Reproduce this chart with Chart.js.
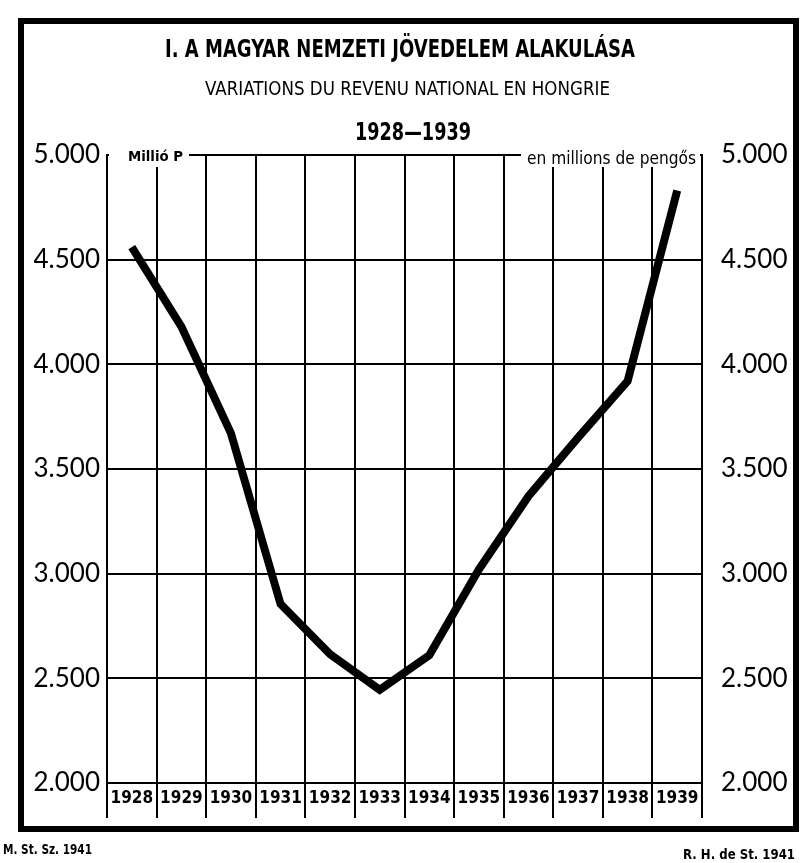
<!DOCTYPE html>
<html>
<head>
<meta charset="utf-8">
<script src="https://cdn.jsdelivr.net/npm/chart.js@4.4.1/dist/chart.umd.min.js"></script>
<style>
  html, body { margin: 0; padding: 0; background: #fff; }
  #wrap { position: relative; width: 801px; height: 863px; }
</style>
</head>
<body>
<div id="wrap"><canvas id="c"></canvas></div>
<script>
// ---- data ----
const years = ['1928','1929','1930','1931','1932','1933','1934','1935','1936','1937','1938','1939'];
const nationalIncome = [4560, 4180, 3670, 2855, 2615, 2445, 2610, 3020, 3370, 3650, 3920, 4830];
const yTickValues = [2000, 2500, 3000, 3500, 4000, 4500, 5000];
const yTickLabels = ['2.000', '2.500', '3.000', '3.500', '4.000', '4.500', '5.000'];
const titleMain = 'I. A MAGYAR NEMZETI JÖVEDELEM ALAKULÁSA';
const titleFr = 'VARIATIONS DU REVENU NATIONAL EN HONGRIE';
const titleYears = '1928—1939';
const unitHu = 'Millió P';
const unitFr = 'en millions de pengős';
const footLeft = 'M. St. Sz. 1941';
const footRight = 'R. H. de St. 1941';

const NARROW = "'Liberation Sans Narrow', 'DejaVu Sans Condensed', 'Liberation Sans', sans-serif";
const LABEL = "Lato, 'Noto Sans', sans-serif";

function tickLabel(v) {
  const i = yTickValues.indexOf(v);
  return i >= 0 ? yTickLabels[i] : '';
}

// draw text squeezed horizontally into a given width, starting at x (left edge)
function fitText(ctx, text, left, baseline, width) {
  const w = ctx.measureText(text).width;
  const sx = width / w;
  ctx.save();
  ctx.translate(left, baseline);
  ctx.scale(sx, 1);
  ctx.textAlign = 'left';
  ctx.fillText(text, 0, 0);
  ctx.restore();
}

const decor = {
  id: 'decor',
  beforeDraw(chart) {
    const ctx = chart.ctx;
    ctx.save();
    ctx.fillStyle = '#fff';
    ctx.fillRect(0, 0, chart.width, chart.height);
    ctx.restore();
  },
  afterDraw(chart) {
    const ctx = chart.ctx;
    const a = chart.chartArea;
    ctx.save();
    // frame
    ctx.strokeStyle = '#000';
    ctx.lineWidth = 6;
    ctx.strokeRect(21, 21, 775, 808);
    // clear top gridline behind unit labels
    ctx.fillStyle = '#fff';
    ctx.fillRect(a.left + 2, a.top - 12, 80, 24);
    ctx.fillRect(521, a.top - 12, a.right - 521 - 2, 24);
    ctx.fillStyle = '#000';
    ctx.textBaseline = 'alphabetic';
    ctx.font = 'bold 24px ' + NARROW;
    fitText(ctx, titleMain, 165, 57, 470);
    ctx.font = '19px ' + NARROW;
    fitText(ctx, titleFr, 205, 95, 405);
    ctx.font = 'bold 25px ' + NARROW;
    fitText(ctx, titleYears, 355, 140, 116);
    // unit labels
    ctx.font = 'bold 14px ' + NARROW;
    fitText(ctx, unitHu, 128, 161, 55);
    ctx.font = '17px ' + NARROW;
    fitText(ctx, unitFr, 527, 164, 169);
    // footers
    ctx.font = 'bold 14px ' + NARROW;
    fitText(ctx, footLeft, 3, 854, 89);
    fitText(ctx, footRight, 683, 859, 112);
    ctx.restore();
  }
};

new Chart(document.getElementById('c'), {
  type: 'line',
  data: {
    labels: years,
    datasets: [{
      data: nationalIncome,
      borderColor: '#000',
      borderWidth: 8,
      pointRadius: 0,
      tension: 0,
      borderJoinStyle: 'miter',
      borderCapStyle: 'butt',
      fill: false
    }]
  },
  options: {
    responsive: true,
    maintainAspectRatio: false,
    animation: false,
    events: [],
    layout: { padding: { top: 155, left: 0, right: 0, bottom: 0 } },
    plugins: { legend: { display: false }, title: { display: false }, tooltip: { enabled: false } },
    scales: {
      x: {
        type: 'category',
        offset: true,
        grid: { display: true, color: '#000', lineWidth: 2, offset: true, drawTicks: true, tickLength: 35, tickColor: '#000' },
        border: { display: true, color: '#000', width: 2 },
        ticks: { color: '#000', font: { family: NARROW, size: 17, weight: 'bold' }, padding: -30, maxRotation: 0, autoSkip: false },
        afterFit(s) { s.height = 80; }
      },
      y: {
        position: 'left',
        min: 2000, max: 5000,
        afterBuildTicks(s) { s.ticks = yTickValues.map(v => ({ value: v })); },
        grid: { display: true, color: '#000', lineWidth: 2, drawTicks: false },
        border: { display: true, color: '#000', width: 2 },
        ticks: { color: '#000', font: { family: LABEL, size: 26 }, padding: 7, callback: (v) => tickLabel(v) },
        afterFit(s) { s.width = 107; }
      },
      y2: {
        position: 'right',
        min: 2000, max: 5000,
        afterBuildTicks(s) { s.ticks = yTickValues.map(v => ({ value: v })); },
        grid: { display: false, drawTicks: false },
        border: { display: true, color: '#000', width: 2 },
        ticks: { color: '#000', font: { family: LABEL, size: 26 }, padding: 19, callback: (v) => tickLabel(v) },
        afterFit(s) { s.width = 99; }
      }
    }
  },
  plugins: [decor]
});
</script>
</body>
</html>
